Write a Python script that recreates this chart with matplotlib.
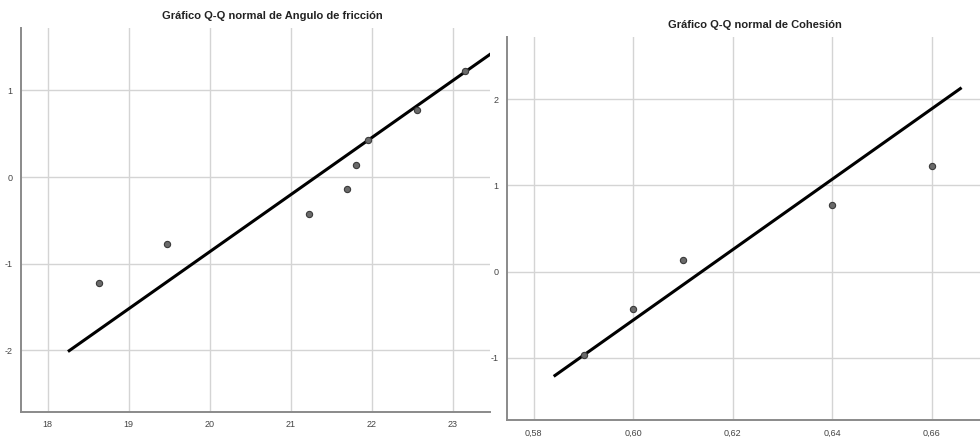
import numpy as np
import matplotlib.pyplot as plt

angulo_obs = [18.63, 19.47, 21.22, 21.70, 21.81, 21.96, 22.56, 23.15]
angulo_z = [-1.22, -0.77, -0.43, -0.14, 0.14, 0.43, 0.77, 1.22]
angulo_media = 21.31
angulo_sd = 1.52
angulo_linea_x = [18.25, 23.7]
angulo_xticks = [18, 19, 20, 21, 22, 23]
angulo_xlabels = ["18", "19", "20", "21", "22", "23"]
angulo_yticks = [-2, -1, 0, 1]

cohesion_obs = [0.59, 0.60, 0.61, 0.64, 0.66]
cohesion_z = [-0.97, -0.43, 0.14, 0.77, 1.22]
cohesion_media = 0.61375
cohesion_sd = 0.0245
cohesion_linea_x = [0.584, 0.666]
cohesion_xticks = [0.58, 0.60, 0.62, 0.64, 0.66]
cohesion_xlabels = ["0,58", "0,60", "0,62", "0,64", "0,66"]
cohesion_yticks = [-1, 0, 1, 2]

plt.rcParams['font.family'] = ['Liberation Sans', 'DejaVu Sans']
plt.rcParams['axes.unicode_minus'] = False

fig = plt.figure(figsize=(9.8, 4.37), dpi=100)
fig.patch.set_facecolor('white')


def qq_panel(ax, obs, z, media, sd, linea_x, xticks, xlabels, yticks, xlim, ylim):
    ax.set_xlim(xlim)
    ax.set_ylim(ylim)
    ax.set_xticks(xticks)
    ax.set_xticklabels(xlabels)
    ax.set_yticks(yticks)
    ax.grid(True, color='#d4d4d4', linewidth=1.0)
    ax.set_axisbelow(True)
    for lado in ['top', 'right']:
        ax.spines[lado].set_visible(False)
    for lado in ['left', 'bottom']:
        ax.spines[lado].set_color('#8a8a8a')
        ax.spines[lado].set_linewidth(1.4)
    ax.tick_params(length=0, labelsize=6.5, colors='#444444', pad=6)
    # linea de referencia normal: z = (x - media) / sd
    lx = np.array(linea_x)
    ax.plot(lx, (lx - media) / sd, color='black', linewidth=2.2,
            solid_capstyle='butt', zorder=3)
    ax.plot(obs, z, linestyle='none', marker='o', markersize=4.5,
            markerfacecolor='#6a6a6a', markeredgecolor='#3a3a3a',
            markeredgewidth=0.8, zorder=4)


ax1 = fig.add_axes([0.0214, 0.0572, 0.4786, 0.879])
qq_panel(ax1, angulo_obs, angulo_z, angulo_media, angulo_sd, angulo_linea_x,
         angulo_xticks, angulo_xlabels, angulo_yticks,
         (17.67, 23.46), (-2.71, 1.72))

ax2 = fig.add_axes([0.5173, 0.0389, 0.4827, 0.8764])
qq_panel(ax2, cohesion_obs, cohesion_z, cohesion_media, cohesion_sd,
         cohesion_linea_x, cohesion_xticks, cohesion_xlabels, cohesion_yticks,
         (0.5746, 0.6697), (-1.72, 2.72))

fig.text(0.2776, 0.963, "Gráfico Q-Q normal de Angulo de fricción",
         ha='center', va='center', fontsize=8, fontweight='bold', color='#222222')
fig.text(0.770, 0.943, "Gráfico Q-Q normal de Cohesión",
         ha='center', va='center', fontsize=8, fontweight='bold', color='#222222')

fig.savefig('out.png', dpi=100, facecolor='white')
